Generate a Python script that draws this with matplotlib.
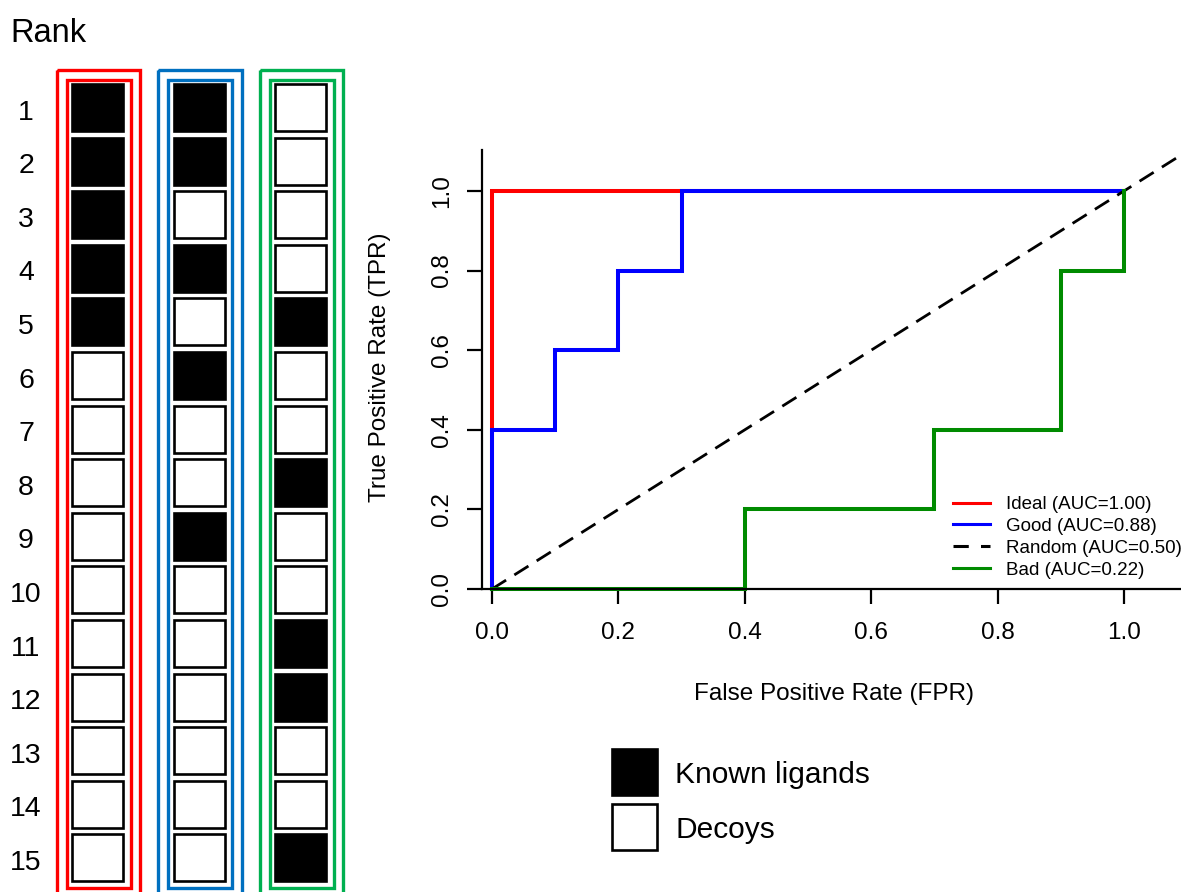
"""
Rank lists for three virtual screening runs next to their ROC curves.
Left: 15 ranked compounds per run (filled = known ligand, empty = decoy).
Right: ROC curves with AUC values in the legend.
"""

import matplotlib
matplotlib.use("Agg")
import matplotlib.pyplot as plt
from matplotlib.patches import Rectangle
from matplotlib.lines import Line2D

plt.rcParams["font.family"] = ["Liberation Sans", "DejaVu Sans"]

W, H = 1181, 892

# 1 = known ligand, 0 = decoy, in rank order
RANKS = list(range(1, 16))
IDEAL_HITS = [1, 1, 1, 1, 1, 0, 0, 0, 0, 0, 0, 0, 0, 0, 0]
GOOD_HITS = [1, 1, 0, 1, 0, 1, 0, 0, 1, 0, 0, 0, 0, 0, 0]
BAD_HITS = [0, 0, 0, 0, 1, 0, 0, 1, 0, 0, 1, 1, 0, 0, 1]
FRAME_COLORS = ["#ff0000", "#0070c0", "#00b050"]

# ROC curves as step points (drawn with steps-post)
IDEAL_FPR = [0.0, 0.0, 1.0]
IDEAL_TPR = [0.0, 1.0, 1.0]
GOOD_FPR = [0.0, 0.0, 0.1, 0.2, 0.3, 1.0]
GOOD_TPR = [0.0, 0.4, 0.6, 0.8, 1.0, 1.0]
BAD_FPR = [0.0, 0.4, 0.7, 0.9, 1.0, 1.0]
BAD_TPR = [0.0, 0.2, 0.4, 0.8, 1.0, 1.0]
CURVE_NAMES = ["Ideal", "Good", "Random", "Bad"]
AUCS = [1.00, 0.88, 0.50, 0.22]
CURVE_COLORS = ["#ff0000", "#0000ff", "black", "#008b00"]
TICKS = [0.0, 0.2, 0.4, 0.6, 0.8, 1.0]

KEY_LABELS = ["Known ligands", "Decoys"]


def px(x, y):
    """pixel position (origin top-left) -> figure fraction"""
    return x / W, 1 - y / H


def draw_rank_columns(pax):
    pitch = 53.6
    top = 83
    box_w, box_h = 53, 49
    col_step = 101.5

    pax.text(10, 42, "Rank", fontsize=23.5, ha="left", va="baseline")
    for i, r in enumerate(RANKS):
        yc = top + i * pitch + box_h / 2
        pax.text(26, yc + 12, str(r), fontsize=20.5, ha="center", va="baseline")

    for c, (hits, color) in enumerate(zip([IDEAL_HITS, GOOD_HITS, BAD_HITS], FRAME_COLORS)):
        x0 = 71 + c * col_step
        # double coloured frame around each column
        pax.add_patch(Rectangle((x0 - 14.5, 70), 83.5, 832, fill=False, ec=color, lw=2.4))
        pax.add_patch(Rectangle((x0 - 4.5, 79.5), 64, 808, fill=False, ec=color, lw=2.4))
        for i, hit in enumerate(hits):
            y = top + i * pitch
            pax.add_patch(Rectangle((x0 + 1, y + 1), box_w - 2, box_h - 2,
                                    fc="black" if hit else "white", ec="black", lw=1.9))


def draw_key(pax):
    fills = ["black", "white"]
    for i, (label, fc) in enumerate(zip(KEY_LABELS, fills)):
        y = 749 + i * 55
        pax.add_patch(Rectangle((612, y), 45, 46, fc=fc, ec="black", lw=1.9))
        pax.text(675, y + 34, label, fontsize=21.5, ha="left", va="baseline")


def draw_roc(fig):
    left, bottom = px(482, 589)
    right, top = px(1186, 150)
    ax = fig.add_axes([left, bottom, right - left, top - bottom])
    ax.set_facecolor("none")
    ax.set_xlim(-10 / 632, 694 / 632)
    ax.set_ylim(0, 439 / 398)

    lw = 2.9
    ax.plot(IDEAL_FPR, IDEAL_TPR, color=CURVE_COLORS[0], lw=lw, drawstyle="steps-post",
            clip_on=False, solid_joinstyle="miter")
    ax.plot(GOOD_FPR, GOOD_TPR, color=CURVE_COLORS[1], lw=lw, drawstyle="steps-post",
            clip_on=False, solid_joinstyle="miter")
    ax.axline((0, 0), slope=1, color=CURVE_COLORS[2], lw=2.0, ls=(0, (6, 3.5)))
    ax.plot(BAD_FPR, BAD_TPR, color=CURVE_COLORS[3], lw=lw, drawstyle="steps-post",
            clip_on=False, solid_joinstyle="miter")

    for side in ["top", "right"]:
        ax.spines[side].set_visible(False)
    for side in ["left", "bottom"]:
        ax.spines[side].set_linewidth(1.6)

    ax.set_xticks(TICKS)
    ax.set_yticks(TICKS)
    ax.set_xticklabels([f"{t:.1f}" for t in TICKS])
    ax.set_yticklabels([f"{t:.1f}" for t in TICKS], rotation=90, va="center")
    ax.tick_params(axis="both", length=10.8, width=1.6, labelsize=17.5)
    ax.tick_params(axis="x", pad=13)
    ax.tick_params(axis="y", pad=10)

    fx, fy = px(834, 694)
    fig.text(fx, fy, "False Positive Rate (FPR)", fontsize=17.5, ha="center", va="center")
    fx, fy = px(380, 367)
    fig.text(fx, fy, "True Positive Rate (TPR)", fontsize=17.5, ha="center", va="center",
             rotation=90)

    handles = []
    for color in CURVE_COLORS:
        if color == "black":
            handles.append(Line2D([], [], color=color, lw=2.2, ls=(0, (5, 4))))
        else:
            handles.append(Line2D([], [], color=color, lw=2.2))
    labels = [f"{n} (AUC={a:.2f})" for n, a in zip(CURVE_NAMES, AUCS)]
    ax.legend(handles, labels, loc="upper left", bbox_to_anchor=px(953, 496),
              bbox_transform=fig.transFigure, frameon=False, fontsize=13.5,
              borderpad=0, borderaxespad=0, handlelength=1.95, handletextpad=0.85,
              labelspacing=0.25)
    return ax


def main():
    fig = plt.figure(figsize=(W / 100, H / 100), dpi=100)
    pax = fig.add_axes([0, 0, 1, 1])
    pax.set_xlim(0, W)
    pax.set_ylim(H, 0)
    pax.axis("off")

    draw_rank_columns(pax)
    draw_key(pax)
    draw_roc(fig)

    fig.savefig("out.png", dpi=100)
    plt.close(fig)


if __name__ == "__main__":
    main()
